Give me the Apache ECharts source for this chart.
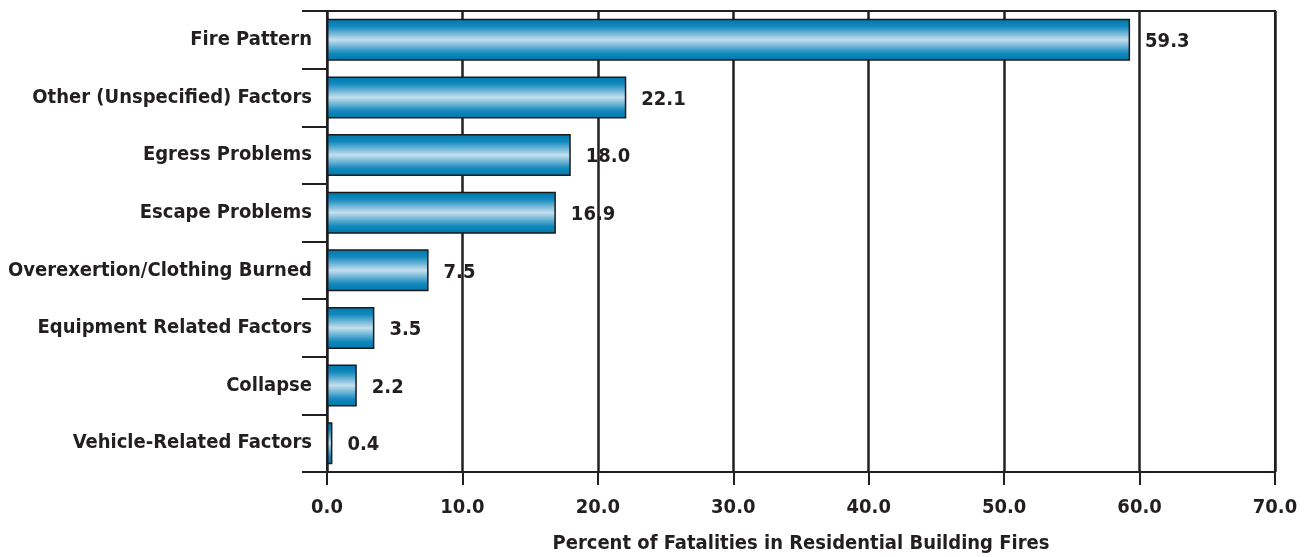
<!DOCTYPE html>
<html>
<head>
<meta charset="utf-8">
<script src="https://cdn.jsdelivr.net/npm/echarts@6/dist/echarts.min.js"></script>
<style>
  html, body { margin: 0; padding: 0; background: #ffffff; }
  #chart { width: 1310px; height: 557px; }
</style>
</head>
<body>
<div id="chart"></div>
<script>
// Contributing factors, listed top to bottom
const categories = [
  'Fire Pattern',
  'Other (Unspecified) Factors',
  'Egress Problems',
  'Escape Problems',
  'Overexertion/Clothing Burned',
  'Equipment Related Factors',
  'Collapse',
  'Vehicle-Related Factors'
];
// Percent of fatalities for each factor
const percents = [59.3, 22.1, 18.0, 16.9, 7.5, 3.5, 2.2, 0.4];
const axisTitle = 'Percent of Fatalities in Residential Building Fires';

const ink = '#231f20';
const narrow = '"DejaVu Sans Condensed", "Liberation Sans Narrow", sans-serif';

// Tubular look: dark edges, pale highlight through the middle
const barFill = new echarts.graphic.LinearGradient(0, 0, 0, 1, [
  { offset: 0, color: '#0077a9' },
  { offset: 0.18, color: '#1289bd' },
  { offset: 0.5, color: '#c4dfee' },
  { offset: 0.82, color: '#1289bd' },
  { offset: 1, color: '#0077a9' }
]);

const chart = echarts.init(document.getElementById('chart'), null, { renderer: 'canvas' });
chart.setOption({
  animation: false,
  grid: {
    left: 327, right: 35, top: 11, bottom: 85,
    outerBoundsMode: 'none', containLabel: false,
    show: true, borderColor: ink, borderWidth: 2, backgroundColor: 'transparent'
  },
  xAxis: {
    type: 'value', min: 0, max: 70, interval: 10,
    axisLine: { show: true, lineStyle: { color: ink, width: 2 } },
    axisTick: { show: true, length: 13, lineStyle: { color: ink, width: 2 } },
    splitLine: { show: true, lineStyle: { color: ink, width: 2.5 } },
    axisLabel: {
      margin: 26, color: ink, fontFamily: narrow, fontWeight: 'bold', fontSize: 20,
      formatter: v => v.toFixed(1)
    },
    name: axisTitle, nameLocation: 'middle', nameGap: 62,
    nameTextStyle: { color: ink, fontFamily: narrow, fontWeight: 'bold', fontSize: 20 }
  },
  yAxis: {
    type: 'category', data: categories, inverse: true,
    axisLine: { show: true, lineStyle: { color: ink, width: 2 } },
    axisTick: { show: true, length: 25, lineStyle: { color: ink, width: 2 } },
    axisLabel: { margin: 15, color: ink, fontFamily: narrow, fontWeight: 'bold', fontSize: 20 }
  },
  series: [{
    type: 'bar', data: percents, barWidth: 42,
    itemStyle: { color: barFill, borderColor: '#1a1a1a', borderWidth: 1.5 },
    label: {
      show: true, position: 'right', distance: 15, offset: [0, 2],
      color: ink, fontFamily: narrow, fontWeight: 'bold', fontSize: 20,
      formatter: p => p.value.toFixed(1)
    }
  }]
});
</script>
</body>
</html>
